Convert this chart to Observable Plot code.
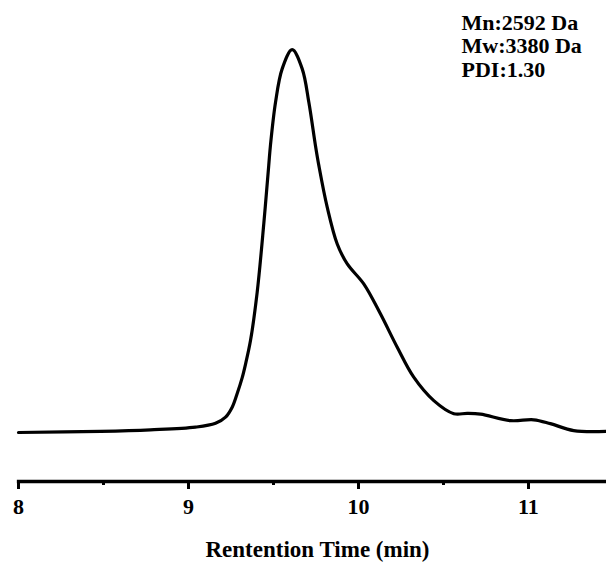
<!DOCTYPE html>
<html>
<head>
<meta charset="utf-8">
<script src="https://cdn.jsdelivr.net/npm/d3@7"></script>
<script src="https://cdn.jsdelivr.net/npm/@observablehq/plot@0.6"></script>
<style>
  html, body { margin: 0; padding: 0; background: #fff; }
  #chart svg { display: block; }
</style>
</head>
<body>
<div id="chart"></div>
<script>
// Retention time (min)
const times = [8.0, 8.482, 8.776, 9.041, 9.159, 9.218, 9.257, 9.286, 9.316, 9.335, 9.365, 9.404, 9.443, 9.472, 9.482, 9.512, 9.551, 9.610, 9.669, 9.708, 9.747, 9.767, 9.816, 9.875, 9.934, 10.031, 10.129, 10.228, 10.325, 10.443, 10.561, 10.640, 10.718, 10.894, 11.031, 11.129, 11.266, 11.459];
// Normalized detector signal
const signal = [0.0, 0.003, 0.007, 0.014, 0.024, 0.040, 0.066, 0.101, 0.143, 0.177, 0.240, 0.365, 0.544, 0.695, 0.747, 0.860, 0.947, 0.997, 0.947, 0.860, 0.747, 0.695, 0.587, 0.491, 0.439, 0.387, 0.309, 0.222, 0.144, 0.083, 0.049, 0.050, 0.048, 0.031, 0.033, 0.023, 0.005, 0.003];
const majorTicks = [8, 9, 10, 11];
const minorTicks = [8.5, 9.5, 10.5];
const stats = ["Mn:2592 Da", "Mw:3380 Da", "PDI:1.30"];
const xLabel = "Rentention Time (min)";

const data = times.map((t, i) => ({t, s: signal[i]}));
const font = "'Liberation Serif', 'Times New Roman', serif";

const chart = Plot.plot({
  width: 606,
  height: 565,
  marginLeft: 18,
  marginRight: 0,
  marginTop: 0,
  marginBottom: 84,
  style: {fontFamily: font, fontWeight: "bold", fontSize: "22px", color: "#000", background: "#fff"},
  x: {domain: [8, 11.459]},
  y: {domain: [-0.1276, 1.125], axis: null},
  marks: [
    Plot.line(data, {x: "t", y: "s", curve: "catmull-rom", stroke: "#000", strokeWidth: 3.2}),
    Plot.frame({anchor: "bottom", stroke: "#000", strokeWidth: 3.3}),
    Plot.axisX({ticks: majorTicks, tickSize: 8, tickPadding: 8.4, strokeWidth: 3, tickFormat: d => String(d), fontSize: 22, fontWeight: "bold", fontFamily: font, label: null}),
    Plot.axisX({ticks: minorTicks, tickSize: 4, strokeWidth: 3, tickFormat: () => "", label: null}),
    Plot.text([xLabel], {frameAnchor: "bottom", dx: 5, dy: 75, lineAnchor: "bottom", text: d => d, fontSize: 23, fontWeight: "bold", fontFamily: font}),
    Plot.text([stats.join("\n")], {frameAnchor: "top-left", dx: 443, dy: 12.4, lineAnchor: "top", textAnchor: "start", lineHeight: 1.077, text: d => d, fontSize: 22, fontWeight: "bold", fontFamily: font})
  ]
});
document.getElementById("chart").appendChild(chart);
</script>
</body>
</html>
